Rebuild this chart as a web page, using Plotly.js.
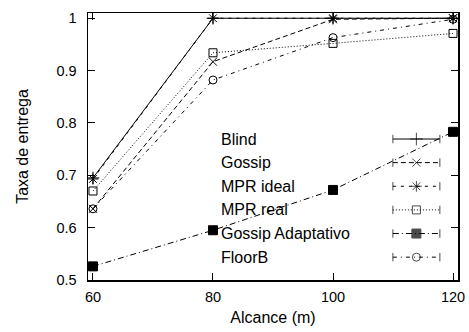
<!DOCTYPE html>
<html>
<head>
<meta charset="utf-8">
<script src="https://cdn.plot.ly/plotly-3.0.1.min.js"></script>
<style>html,body{margin:0;padding:0;background:#fff}#chart{width:469px;height:332px}</style>
</head>
<body>
<div id="chart"></div>
<script>
// ---- data ----
const alcance = [60, 80, 100, 120];
const seriesNames = ["Blind", "Gossip", "MPR ideal", "MPR real", "Gossip Adaptativo", "FloorB"];
const blind = [0.695, 1.0, 1.0, 1.0];
const gossip = [0.636, 0.917, 0.998, 1.0];
const mprIdeal = [0.693, 1.0, 1.0, 1.0];
const mprReal = [0.670, 0.934, 0.952, 0.971];
const gossipAdapt = [0.526, 0.595, 0.672, 0.783];
const floorB = [0.636, 0.882, 0.963, 0.998];
const xTicks = [60, 80, 100, 120];
const yTicks = [0.5, 0.6, 0.7, 0.8, 0.9, 1];
const yTickLabels = ["0.5", "0.6", "0.7", "0.8", "0.9", "1"];

// ---- styles ----
const values = [blind, gossip, mprIdeal, mprReal, gossipAdapt, floorB];
const dashes = ["solid", "5px,3px", "3px,5px", "1px,2px", "6px,3px,1px,3px", "4px,4px,1px,4px"];
const symbols = ["cross-thin-open", "x-thin-open", "asterisk-open", "square-open", "square", "circle-open"];
const sizes = [9, 8, 9, 8, 9, 8];

const traces = [];
values.forEach((v, i) => {
  traces.push({
    x: alcance, y: v, type: "scatter", mode: "lines+markers", name: seriesNames[i],
    showlegend: false,
    line: {color: "#000", width: 1, dash: dashes[i]},
    marker: {symbol: symbols[i], size: sizes[i], color: "#000", line: {color: "#000", width: 1}}
  });
});

const fam = "Liberation Sans, Arial, sans-serif";
const font = {family: fam, size: 16, color: "#000"};
const tickFont = {family: fam, size: 14.5, color: "#000"};

// custom gnuplot-style key (text left, sample right) on an overlay axis
const keyX0 = 0.824, keyX1 = 0.951, keyXc = 0.8875, keyTextX = 0.355;
const keyTop = 0.528, keyStep = 0.0885;
const annotations = [];
seriesNames.forEach((n, i) => {
  const yy = keyTop - i * keyStep;
  traces.push({
    x: [keyX0, keyXc, keyX1], y: [yy, yy, yy], xaxis: "x2", yaxis: "y2",
    type: "scatter", mode: "lines+markers", showlegend: false, hoverinfo: "skip",
    line: {color: "#000", width: 1, dash: dashes[i]},
    marker: {symbol: ["line-ns-open", symbols[i], "line-ns-open"], size: [6, sizes[i], 6],
             color: "#000", line: {color: "#000", width: 1}}
  });
  annotations.push({
    xref: "x2", yref: "y2", x: keyTextX, y: yy, text: n, showarrow: false,
    xanchor: "left", yanchor: "middle", font: font
  });
});

const layout = {
  width: 469, height: 332,
  margin: {l: 88, r: 11, t: 13, b: 52},
  paper_bgcolor: "#fff", plot_bgcolor: "#fff",
  font: font,
  showlegend: false,
  xaxis: {
    range: [59.17, 120.83], tickvals: xTicks, ticktext: xTicks.map(String),
    ticks: "inside", ticklen: 7, tickwidth: 1, tickcolor: "#000",
    showline: true, linecolor: "#000", linewidth: 1.5, mirror: "ticks",
    showgrid: false, zeroline: false, ticklabelstandoff: 3,
    title: {text: "Alcance (m)", font: font, standoff: 8},
    tickfont: tickFont
  },
  yaxis: {
    range: [0.5, 1.01], tickvals: yTicks, ticktext: yTickLabels,
    ticks: "inside", ticklen: 7, tickwidth: 1, tickcolor: "#000",
    showline: true, linecolor: "#000", linewidth: 1.5, mirror: "ticks",
    showgrid: false, zeroline: false, ticklabelstandoff: 7,
    title: {text: "Taxa de entrega", font: font, standoff: 24},
    tickfont: tickFont
  },
  xaxis2: {overlaying: "x", range: [0, 1], visible: false, fixedrange: true},
  yaxis2: {overlaying: "y", range: [0, 1], visible: false, fixedrange: true},
  annotations: annotations
};

Plotly.newPlot("chart", traces, layout, {displayModeBar: false, staticPlot: true});
</script>
</body>
</html>
